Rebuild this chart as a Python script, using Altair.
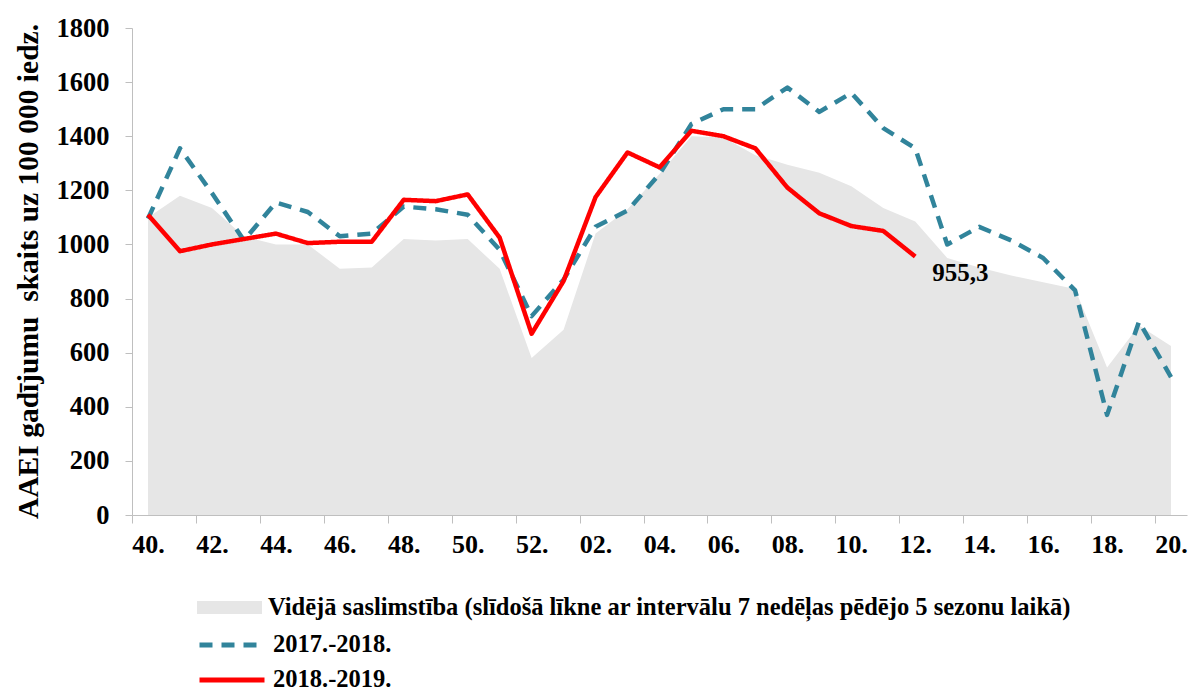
import altair as alt
import pandas as pd

weeks = ["40.", "41.", "42.", "43.", "44.", "45.", "46.", "47.", "48.", "49.", "50.", "51.", "52.",
         "01.", "02.", "03.", "04.", "05.", "06.", "07.", "08.", "09.", "10.", "11.", "12.",
         "13.", "14.", "15.", "16.", "17.", "18.", "19.", "20."]

avg_values = [1100, 1180, 1135, 1030, 1000, 1000, 910, 915, 1020, 1015, 1020, 910, 580,
              685, 1040, 1130, 1260, 1400, 1395, 1330, 1295, 1265, 1215, 1135, 1085,
              950, 915, 885, 860, 835, 545, 700, 625]
s2017_values = [1095, 1355, 1190, 1015, 1155, 1120, 1030, 1040, 1140, 1130, 1110, 980, 735,
                870, 1065, 1125, 1260, 1445, 1500, 1500, 1580, 1490, 1560, 1430, 1355,
                1000, 1065, 1015, 950, 830, 370, 715, 510]
s2018_values = [1110, 975, 1000, 1020, 1040, 1005, 1010, 1010, 1165, 1160, 1185, 1025, 670,
                865, 1175, 1340, 1285, 1420, 1400, 1355, 1210, 1115, 1068, 1050, 955.3]

name_avg = "Vidējā saslimstība (slīdošā līkne ar intervālu 7 nedēļas pēdējo 5 sezonu laikā)"
name_2017 = "2017.-2018."
name_2018 = "2018.-2019."

C_AVG = "#e6e6e6"
C_2017 = "#31849b"
C_2018 = "#ff0000"
FONT = "Liberation Serif"

avg_df = pd.DataFrame({"idx": list(range(len(avg_values))), "value": avg_values,
                       "avg_series": [name_avg] * len(avg_values)})
rows = []
for i, v in enumerate(s2017_values):
    rows.append({"idx": i, "value": v, "series": name_2017})
for i, v in enumerate(s2018_values):
    rows.append({"idx": i, "value": v, "series": name_2018})
line_df = pd.DataFrame(rows)

last_i = len(s2018_values) - 1
ann = pd.DataFrame([{"idx": last_i, "value": s2018_values[-1],
                     "label": f"{s2018_values[-1]:.1f}".replace(".", ",")}])

js_weeks = "[" + ",".join("'" + w + "'" for w in weeks) + "]"
n = len(weeks)

x_scale = alt.Scale(domain=[-0.5, n - 0.5], nice=False, zero=False)
y_scale = alt.Scale(domain=[0, 1800], nice=False)

x_axis = alt.Axis(
    values=[i - 0.5 for i in range(n + 1)],
    labelExpr=f"((datum.value + 0.5) % 2 == 0 && datum.value < {n - 1}) ? {js_weeks}[datum.value + 0.5] : ''",
    labelOffset=16, labelFlush=False, labelOverlap=False, labelBound=False,
    grid=False, tickSize=8, tickColor="#bfbfbf", domainColor="#bfbfbf",
    labelFont=FONT, labelFontSize=26, labelFontWeight="bold", labelColor="black",
    labelPadding=8, title=None,
)
y_axis = alt.Axis(
    values=list(range(0, 1801, 200)), format="d", grid=False, tickSize=7,
    tickColor="#bfbfbf", domainColor="#bfbfbf",
    labelFont=FONT, labelFontSize=26.5, labelFontWeight="bold", labelColor="black",
    labelPadding=16,
    title="AAEI gadījumu\u00a0 skaits uz 100 000 iedz.",
    titleFont=FONT, titleFontSize=29.5, titleFontWeight="bold", titleColor="black",
    titleX=-89, titleY=243, titleAngle=-90,
)

legend_common = dict(
    orient="none", direction="vertical", title=None,
    labelFont=FONT, labelFontSize=24.5, labelFontWeight="bold", labelColor="black",
    labelLimit=2000, symbolSize=625, labelOffset=26, padding=0,
)

area = alt.Chart(avg_df).mark_area(opacity=1).encode(
    x=alt.X("idx:Q", scale=x_scale, axis=x_axis),
    y=alt.Y("value:Q", scale=y_scale, axis=y_axis),
    fill=alt.Fill("avg_series:N", scale=alt.Scale(domain=[name_avg], range=[C_AVG]),
                  legend=alt.Legend(legendX=85, legendY=567,
                                    symbolType="M-2.6,-0.52H2.6V0.52H-2.6Z",
                                    symbolOpacity=1, symbolStrokeWidth=0,
                                    **legend_common)),
)

line_legend = alt.Legend(legendX=85, legendY=602, symbolType="M-2.6,0H2.6",
                         symbolStrokeWidth=5, rowPadding=8, **legend_common)

lines = alt.Chart(line_df).mark_line(strokeCap="butt", strokeJoin="round").encode(
    x=alt.X("idx:Q", scale=x_scale),
    y=alt.Y("value:Q", scale=y_scale),
    stroke=alt.Stroke("series:N", scale=alt.Scale(domain=[name_2017, name_2018],
                                                  range=[C_2017, C_2018]),
                      legend=line_legend),
    strokeDash=alt.StrokeDash("series:N", scale=alt.Scale(domain=[name_2017, name_2018],
                                                          range=[[13, 9], [1, 0]]),
                              legend=line_legend),
    strokeWidth=alt.value(4.5),
)

label = alt.Chart(ann).mark_text(align="left", baseline="middle", dx=17, dy=16, font=FONT,
                                 fontSize=25, fontWeight="bold", color="black").encode(
    x=alt.X("idx:Q", scale=x_scale),
    y=alt.Y("value:Q", scale=y_scale),
    text="label:N",
)

chart = alt.layer(area, lines, label).properties(
    width=1055, height=487,
    autosize=alt.AutoSizeParams(type="none"),
    padding={"left": 124, "top": 20, "right": 2, "bottom": 177},
).configure_view(stroke=None)

chart.save("out.html", embed_options={"renderer": "svg", "actions": False})
